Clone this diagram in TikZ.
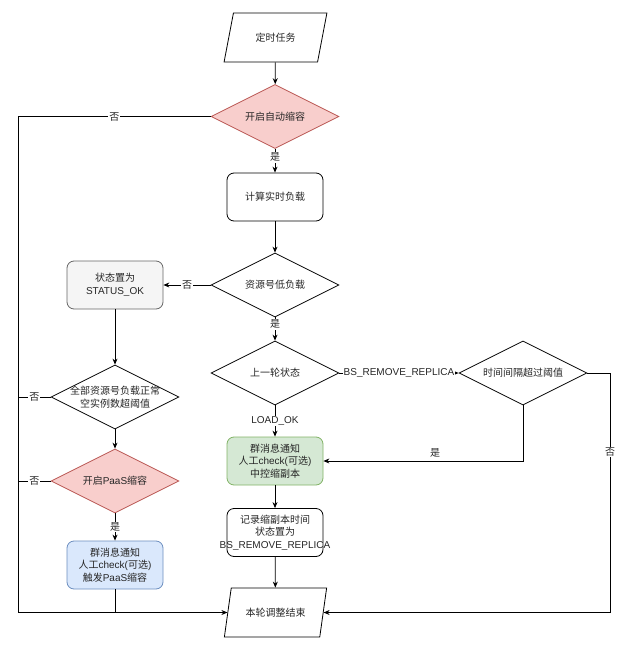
\documentclass[tikz,border=0pt]{standalone}
\usepackage{fontspec}
\setmainfont{Noto Sans CJK SC}
\newfontfamily\lat{Liberation Sans}
\usetikzlibrary{shapes.geometric,arrows.meta}

\begin{document}
\begin{tikzpicture}[x=1pt, y=-1pt,
  every node/.style={font=\fontsize{10}{12.5}\selectfont, text=black!85},
  procbox/.style={draw, rounded corners=7pt, minimum width=96pt, minimum height=48pt, text width=88pt, align=center, line width=0.8pt},
  decbox/.style={draw, diamond, shape aspect=2, minimum width=128pt, minimum height=64pt, inner sep=0pt, align=center, line width=0.8pt},
  iobox/.style={draw, trapezium, trapezium left angle=72, trapezium right angle=108, trapezium stretches=true, minimum width=103pt, minimum height=49pt, line width=0.8pt},
  flow/.style={draw, line width=0.8pt, -{Stealth[length=6pt,width=5pt]}},
  plain/.style={draw, line width=0.8pt},
  lbl/.style={fill=white, inner sep=1pt}]
\definecolor{redfill}{HTML}{F8CECC}
\definecolor{redline}{HTML}{B85450}
\definecolor{greenfill}{HTML}{D5E8D4}
\definecolor{greenline}{HTML}{82B366}
\definecolor{bluefill}{HTML}{DAE8FC}
\definecolor{blueline}{HTML}{6C8EBF}
\definecolor{greyfill}{HTML}{F5F5F5}
\definecolor{greyline}{HTML}{666666}
\useasboundingbox (0,0) rectangle (630,650);

\node[iobox] (start) at (275.5,37.5) {定时任务};
\node[decbox, fill=redfill, draw=redline] (auto) at (275,116.5) {开启自动缩容};
\node[procbox] (calc) at (275,197) {计算实时负载};
\node[decbox] (low) at (275,285) {资源号低负载};
\node[procbox, fill=greyfill, draw=greyline] (ok) at (115,285) {状态置为\\{\lat STATUS\_OK}};
\node[decbox] (last) at (275,373) {上一轮状态};
\node[decbox] (time) at (523,373) {时间间隔超过阈值};
\node[decbox] (all) at (115,397) {\makebox[70pt]{全部资源号负载正常}\\\makebox[70pt]{空实例数超阈值}};
\node[decbox, fill=redfill, draw=redline] (paas) at (115,481) {开启{\lat PaaS}缩容};
\node[procbox, fill=greenfill, draw=greenline] (notify) at (275,461) {群消息通知\\人工{\lat check(}可选{\lat )}\\中控缩副本};
\node[procbox] (record) at (275,532.5) {记录缩副本时间\\状态置为\\\makebox[88pt]{\lat BS\_REMOVE\_REPLICA}};
\node[procbox, fill=bluefill, draw=blueline] (trigger) at (115,565) {群消息通知\\人工{\lat check(}可选{\lat )}\\触发{\lat PaaS}缩容};
\node[iobox] (finish) at (275.5,612.5) {本轮调整结束};

\coordinate (leftx) at (18,0);
\coordinate (rightx) at (610,0);

\draw[flow] (start) -- (auto);
\draw[flow] (auto) -- node[lbl, pos=0.35] {是} (calc);
\draw[flow] (auto.west) -- node[lbl] {否} (auto.west -| leftx) |- (finish.west);
\draw[flow] (calc) -- (low);
\draw[flow] (low) -- node[lbl] {否} (ok);
\draw[flow] (low) -- node[lbl, pos=0.3] {是} (last);
\draw[flow] (ok) -- (all);
\draw[plain] (all.west) -- node[lbl] {否} (all.west -| leftx);
\draw[flow] (all) -- (paas);
\draw[plain] (paas.west) -- node[lbl] {否} (paas.west -| leftx);
\draw[flow] (paas) -- node[lbl] {是} (trigger);
\draw[plain] (trigger) -- (trigger |- finish.west);
\draw[flow] (last) -- node[lbl] {\lat LOAD\_OK} (notify);
\draw[flow] (last) -- node[lbl] {\lat BS\_REMOVE\_REPLICA} (time);
\draw[flow] (time.south) |- node[above, pos=0.72] {是} (notify.east);
\draw[flow] (time.east) -- (time.east -| rightx) -- node[lbl, pos=0.33] {否} (rightx |- finish.east) -- (finish.east);
\draw[flow] (notify) -- (record);
\draw[flow] (record) -- (finish);
\end{tikzpicture}
\end{document}
